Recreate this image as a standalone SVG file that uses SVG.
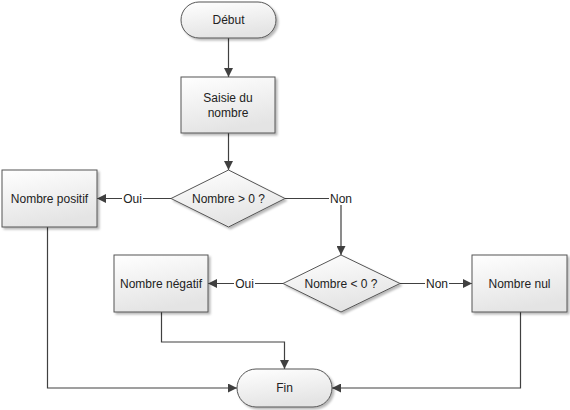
<svg xmlns="http://www.w3.org/2000/svg" width="570" height="410" viewBox="0 0 570 410">
<defs>
<linearGradient id="g" x1="0" y1="0" x2="0.3" y2="1">
<stop offset="0" stop-color="#ffffff"/>
<stop offset="1" stop-color="#e4e4e4"/>
</linearGradient>
<filter id="sh" x="-10%" y="-10%" width="130%" height="130%">
<feDropShadow dx="2" dy="2" stdDeviation="1.2" flood-color="#000" flood-opacity="0.28"/>
</filter>
<marker id="ah" viewBox="0 0 10 10" refX="10" refY="5" markerWidth="9" markerHeight="9" markerUnits="userSpaceOnUse" orient="auto">
<path d="M0,0 L10,5 L0,10 z" fill="#404040"/>
</marker>
</defs>
<style>
.n{fill:url(#g);stroke:#555;stroke-width:1;filter:url(#sh)}
.t{font-family:"Liberation Sans",Arial,sans-serif;font-size:12px;fill:#222;text-anchor:middle;dominant-baseline:central}
.c{fill:none;stroke:#404040;stroke-width:1.2}
.a{marker-end:url(#ah)}
.lb{fill:#fff}
</style>
<rect width="570" height="410" fill="#fff"/>
<g id="connectors">
<path class="c a" d="M228.5,38 V77"/>
<path class="c a" d="M228.5,133 V170"/>
<path class="c a" d="M171,198.5 H97"/>
<path class="c a" d="M285,198.5 H341 V255"/>
<path class="c a" d="M283,283.5 H208"/>
<path class="c a" d="M400,283.5 H472"/>
<path class="c a" d="M47.5,227 V388 H237"/>
<path class="c a" d="M161.5,312 V342 H284.5 V369"/>
<path class="c a" d="M520.5,312 V388 H332"/>
<rect class="lb" x="122" y="192" width="21" height="13"/>
<text class="t" x="132.5" y="198.5">Oui</text>
<rect class="lb" x="329" y="192" width="24" height="13"/>
<text class="t" x="341" y="198.5">Non</text>
<rect class="lb" x="234" y="277" width="21" height="13"/>
<text class="t" x="244.5" y="283.5">Oui</text>
<rect class="lb" x="425" y="277" width="24" height="13"/>
<text class="t" x="437" y="283.5">Non</text>
</g>
<g id="debut">
<rect class="n" x="181" y="2" width="95" height="36" rx="18"/>
<text class="t" x="228.5" y="20">Début</text>
</g>
<g id="saisie">
<rect class="n" x="181" y="77" width="94" height="56"/>
<text class="t" x="228" y="98">Saisie du</text>
<text class="t" x="228" y="113">nombre</text>
</g>
<g id="test1">
<polygon class="n" points="228.5,170 285,198.5 228.5,227 171,198.5"/>
<text class="t" x="228.5" y="198.5">Nombre &gt; 0 ?</text>
</g>
<g id="positif">
<rect class="n" x="2" y="170" width="95" height="57"/>
<text class="t" x="49.5" y="198.5">Nombre positif</text>
</g>
<g id="test2">
<polygon class="n" points="341,255 400,283.5 341,312 283,283.5"/>
<text class="t" x="341" y="283.5">Nombre &lt; 0 ?</text>
</g>
<g id="negatif">
<rect class="n" x="114" y="255" width="94" height="57"/>
<text class="t" x="161" y="283.5">Nombre négatif</text>
</g>
<g id="nul">
<rect class="n" x="472" y="255" width="95" height="57"/>
<text class="t" x="519.5" y="283.5">Nombre nul</text>
</g>
<g id="fin">
<rect class="n" x="237" y="369" width="95" height="38" rx="19"/>
<text class="t" x="284.5" y="388">Fin</text>
</g>
</svg>
